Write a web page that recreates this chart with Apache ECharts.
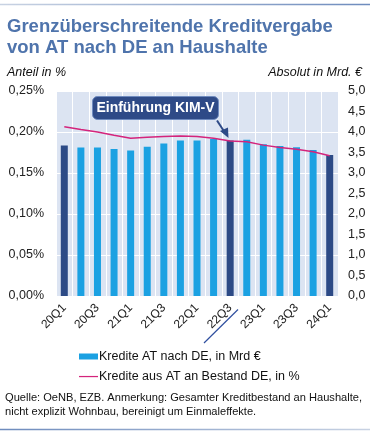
<!DOCTYPE html>
<html>
<head>
<meta charset="utf-8">
<script src="https://cdn.jsdelivr.net/npm/echarts@6/dist/echarts.min.js"></script>
<style>
html,body{margin:0;padding:0;background:#fff;}
#c{width:370px;height:432px;}
</style>
</head>
<body>
<div id="c"></div>
<script>
// Data
const categories = ['20Q1','20Q2','20Q3','20Q4','21Q1','21Q2','21Q3','21Q4','22Q1','22Q2','22Q3','22Q4','23Q1','23Q2','23Q3','23Q4','24Q1'];
const kreditMrd = [3.67,3.62,3.62,3.585,3.55,3.64,3.72,3.79,3.79,3.83,3.79,3.81,3.70,3.66,3.63,3.56,3.44];
const anteilPct = [0.2065,0.203,0.2,0.196,0.1925,0.1935,0.1945,0.195,0.1945,0.1925,0.189,0.188,0.184,0.181,0.179,0.176,0.171];
const highlightIdx = [0,10,16];
const leftTicks = {min:0,max:0.25,interval:0.05};
const rightTicks = {min:0,max:5,interval:0.5};
const seriesNames = ['Kredite AT nach DE, in Mrd €','Kredite aus AT an Bestand DE, in %'];

const FONT = '"Liberation Sans", Arial, sans-serif';
const BAR = '#1ba1e2', BAR_DARK = '#2c4a86', LINE = '#d4247c';
const chart = echarts.init(document.getElementById('c'), null, {renderer:'canvas'});

const option = {
  animation:false,
  backgroundColor:'#fff',
  textStyle:{fontFamily:FONT},
  title:[
    {text:'Grenzüberschreitende Kreditvergabe\nvon AT nach DE an Haushalte', left:7, top:16, padding:0,
     textStyle:{fontFamily:FONT,fontSize:18.5,fontWeight:'bold',color:'#4f74ac',lineHeight:21}},
    {text:'Anteil in %', left:7, top:66, padding:0, textStyle:{fontFamily:FONT,fontSize:12.5,fontStyle:'italic',fontWeight:'normal',color:'#111'}},
    {text:'Absolut in Mrd. €', right:8, top:66, padding:0, textStyle:{fontFamily:FONT,fontSize:12.5,fontStyle:'italic',fontWeight:'normal',color:'#111'}},
    {text:'Quelle: OeNB, EZB. Anmerkung: Gesamter Kreditbestand an Haushalte,\nnicht explizit Wohnbau, bereinigt um Einmaleffekte.', left:5, top:391, padding:0,
     textStyle:{fontFamily:FONT,fontSize:11.1,fontWeight:'normal',color:'#111',lineHeight:14}}
  ],
  grid:{left:56,right:32,top:91,bottom:136,show:true,backgroundColor:'#dce4f2',borderWidth:0},
  legend:{
    orient:'vertical', left:74, top:345, itemGap:7, itemWidth:19, itemHeight:6,
    textStyle:{fontFamily:FONT,fontSize:12.5,color:'#111',padding:[0,0,0,-4]},
    data:[
      {name:seriesNames[0],icon:'rect',itemStyle:{color:BAR}},
      {name:seriesNames[1],icon:'path://M0,0L0,0M0,2.4h20v1.3h-20zM0,6L0,6',itemStyle:{color:LINE}}
    ]
  },
  xAxis:{
    type:'category', data:categories, boundaryGap:true,
    axisLine:{show:false}, axisTick:{show:false},
    axisLabel:{interval:1, rotate:45, margin:10, fontSize:12, color:'#222', fontFamily:FONT},
    splitLine:{show:true, interval:0, lineStyle:{color:'#ffffff',width:1}}
  },
  yAxis:[
    {type:'value', position:'left', min:leftTicks.min, max:leftTicks.max, interval:leftTicks.interval,
     axisLine:{show:false}, axisTick:{show:false},
     axisLabel:{margin:12, fontSize:12.5, color:'#222', fontFamily:FONT, formatter:v=>v.toFixed(2).replace('.',',')+'%'},
     splitLine:{show:true, lineStyle:{color:'#ffffff',width:1}}},
    {type:'value', position:'right', min:rightTicks.min, max:rightTicks.max, interval:rightTicks.interval,
     axisLine:{show:false}, axisTick:{show:false},
     axisLabel:{margin:10, fontSize:12.5, color:'#222', fontFamily:FONT, formatter:v=>v.toFixed(1).replace('.',',')},
     splitLine:{show:false}}
  ],
  series:[
    {name:seriesNames[0], type:'bar', yAxisIndex:1, data:kreditMrd, barWidth:7,
     itemStyle:{color:p=>highlightIdx.includes(p.dataIndex)?BAR_DARK:BAR}},
    {name:seriesNames[1], type:'line', yAxisIndex:0, data:anteilPct, symbol:'none', z:5,
     lineStyle:{color:LINE,width:1.5}, itemStyle:{color:LINE}}
  ],
  graphic:[
    {type:'line', shape:{x1:0,y1:4.5,x2:370,y2:4.5}, style:{stroke:new echarts.graphic.LinearGradient(0,0,1,0,[{offset:0,color:'#c9d3e3'},{offset:1,color:'#6d8bbd'}]),lineWidth:1.5}},
    {type:'line', shape:{x1:0,y1:429.5,x2:370,y2:429.5}, style:{stroke:new echarts.graphic.LinearGradient(0,0,1,0,[{offset:0,color:'#6d8bbd'},{offset:1,color:'#c9d3e3'}]),lineWidth:1.5}},
    {type:'rect', shape:{x:92.5,y:96.5,width:126,height:23,r:5}, style:{fill:'#2e4a87',stroke:'#6f8bbf',lineWidth:1}, z:10},
    {type:'text', x:155.5, y:108.5, style:{text:'Einführung KIM-V',fill:'#fff',font:'bold 14px '+FONT,textAlign:'center',textVerticalAlign:'middle'}, z:11},
    {type:'line', shape:{x1:217,y1:120.5,x2:224.5,y2:132}, style:{stroke:'#2e4a87',lineWidth:2}, z:10},
    {type:'polygon', shape:{points:[[220,131],[228.5,138],[228,127.5]]}, style:{fill:'#2e4a87'}, z:10},
    {type:'line', shape:{x1:204,y1:343,x2:238,y2:309.5}, style:{stroke:'#2f4f9f',lineWidth:1.2}, z:10}
  ]
};
chart.setOption(option);
</script>
</body>
</html>
